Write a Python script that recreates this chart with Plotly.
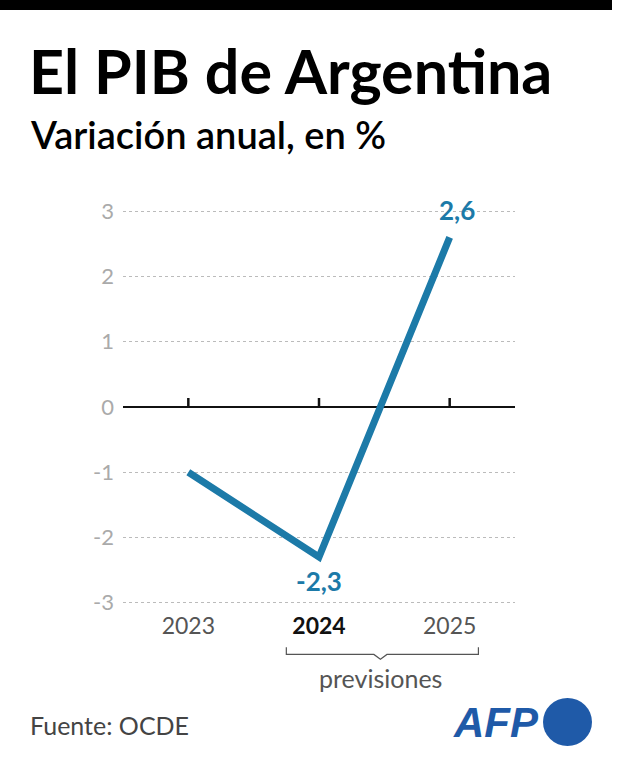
import plotly.graph_objects as go

years = ["2023", "2024", "2025"]
values = [-1.0, -2.3, 2.6]
label_texts = ["", "-2,3", "2,6"]
y_ticks = [-3, -2, -1, 0, 1, 2, 3]

xs = list(range(len(years)))
BLUE = "#1c7aa8"
FONT = "Lato"

fig = go.Figure()
fig.add_trace(go.Scatter(x=xs, y=values, mode="lines",
                         line=dict(color=BLUE, width=7), hoverinfo="skip"))

ticktext = ["<span style='color:#555'>2023</span>",
            "<span style='color:#111'><b>2024</b></span>",
            "<span style='color:#555'>2025</span>"]

fig.update_layout(
    width=622, height=768,
    margin=dict(l=123, r=107, t=210, b=164),
    paper_bgcolor="white", plot_bgcolor="white",
    showlegend=False,
    font=dict(family=FONT),
    xaxis=dict(range=[-0.5, 2.5], tickvals=xs, ticktext=ticktext,
               showgrid=False, zeroline=False, showline=False,
               tickfont=dict(size=23, family=FONT), ticks="",
               ticklabelstandoff=6, fixedrange=True),
    yaxis=dict(range=[-3.02, 3.02], tickvals=y_ticks,
               ticktext=[str(v) for v in y_ticks],
               showgrid=True, gridcolor="#bbbbbb", griddash="dot", gridwidth=1,
               zeroline=True, zerolinecolor="#111", zerolinewidth=1.5,
               showline=False, ticks="",
               tickfont=dict(size=22, color="#aaaaaa", family=FONT),
               ticklabelstandoff=8, fixedrange=True),
)

# ticks on zero line
for x in xs:
    fig.add_shape(type="line", xref="x", yref="y", x0=x, x1=x,
                  ysizemode="pixel", yanchor=0, y0=0, y1=9,
                  line=dict(color="#111", width=2.5))

# value labels
shifts = [0, -24, 27]
for x, v, t, s in zip(xs, values, label_texts, shifts):
    if t:
        fig.add_annotation(x=x, y=v, text="<b>" + t + "</b>", showarrow=False,
                           xshift=7 if s > 0 else 0, yshift=s,
                           font=dict(size=26, color=BLUE, family=FONT))

# forecast bracket
fig.add_shape(type="path", xref="x", yref="paper",
              path="M 0.75,-0.11 L 0.75,-0.128 L 1.42,-0.128 L 1.47,-0.14 L 1.52,-0.128 L 2.22,-0.128 L 2.22,-0.11",
              line=dict(color="#555", width=1.2))
fig.add_annotation(x=1.47, xref="x", y=-0.188, yref="paper", text="previsiones",
                   xanchor="center", yanchor="middle",
                   showarrow=False, font=dict(size=25, color="#555", family=FONT))

# header
fig.add_shape(type="rect", xref="paper", yref="paper",
              x0=-123/392, x1=(612-123)/392, y0=(604-0)/394, y1=(604-10)/394,
              fillcolor="black", line=dict(width=0))
fig.add_annotation(xref="paper", yref="paper", x=-96/392, y=(604-70)/394,
                   xanchor="left", yanchor="middle", showarrow=False,
                   text="<b>El PIB de Argentina</b>",
                   font=dict(size=61, color="black", family=FONT))
fig.add_annotation(xref="paper", yref="paper", x=-95/392, y=(604-134)/394,
                   xanchor="left", yanchor="middle", showarrow=False,
                   text="Variación anual, en %",
                   font=dict(size=38, color="black", family=FONT, weight=600))

# footer
fig.add_annotation(xref="paper", yref="paper", x=-95/392, y=(604-725)/394,
                   xanchor="left", yanchor="middle", showarrow=False,
                   text="Fuente: OCDE",
                   font=dict(size=25, color="#444", family=FONT))
fig.add_annotation(xref="paper", yref="paper", x=(541-123)/392, y=(604-722)/394,
                   xanchor="right", yanchor="middle", showarrow=False,
                   text="<b><i>AFP</i></b>",
                   font=dict(size=42, color="#1f5aa8", family="Liberation Sans"))
fig.add_shape(type="circle", xref="paper", yref="paper",
              x0=(543-123)/392, x1=(592-123)/392,
              y0=(604-698)/394, y1=(604-746)/394,
              fillcolor="#1f5aa8", line=dict(width=0))

fig.write_html("out.html")
